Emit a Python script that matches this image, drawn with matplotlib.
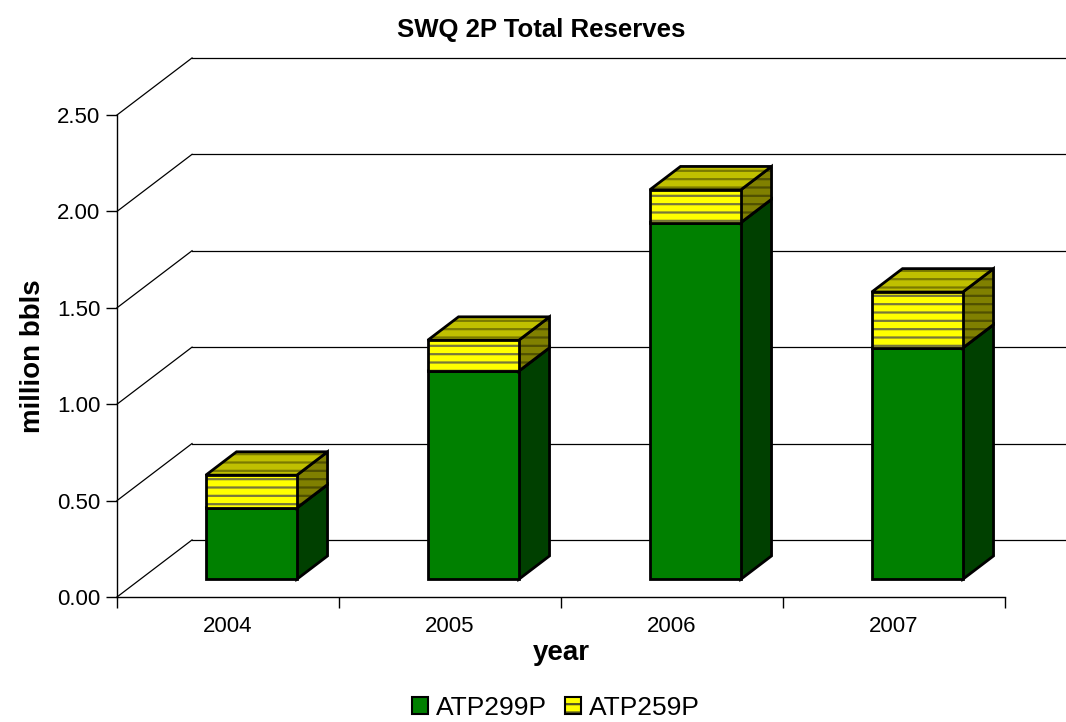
import matplotlib
matplotlib.use("Agg")
import matplotlib.pyplot as plt
from matplotlib.patches import Polygon, Patch
from matplotlib.legend_handler import HandlerTuple

years = ["2004", "2005", "2006", "2007"]
atp299p = [0.37, 1.08, 1.85, 1.20]
atp259p = [0.17, 0.16, 0.17, 0.29]
y_ticks = [0.0, 0.5, 1.0, 1.5, 2.0, 2.5]

# oblique depth of the chart box, in data units
DX, DY = 0.338, 0.296
F_FRONT, F_BACK = 0.31, 0.72
HALF_W = 0.205

plt.rcParams["font.family"] = ["Liberation Sans", "DejaVu Sans"]
plt.rcParams["hatch.linewidth"] = 1.6

fig = plt.figure(figsize=(10.66, 7.22), dpi=100)
ax = fig.add_axes([117 / 1066, 125 / 722, 888 / 1066, 482 / 722])
ax.set_xlim(0, len(years))
ax.set_ylim(0, 2.5)
for s in ["top", "right"]:
    ax.spines[s].set_visible(False)
ax.spines["left"].set_linewidth(1.0)
ax.spines["bottom"].set_linewidth(1.0)

# walls: left side diagonals and back wall lines
for v in y_ticks:
    ax.plot([0, DX], [v, v + DY], color="black", lw=0.9, clip_on=False, zorder=1)
    ax.plot([DX, len(years) + DX], [v + DY, v + DY], color="black", lw=0.9,
            clip_on=False, zorder=1)


def face(pts, fc, hatch_col=None):
    ax.add_patch(Polygon(pts, closed=True, facecolor=fc, edgecolor="none",
                         clip_on=False, zorder=3))
    if hatch_col is not None:
        ax.add_patch(Polygon(pts, closed=True, facecolor="none", edgecolor=hatch_col,
                             lw=0, hatch="--", clip_on=False, zorder=3))
    ax.add_patch(Polygon(pts, closed=True, facecolor="none", edgecolor="black",
                         lw=2.0, joinstyle="miter", clip_on=False, zorder=3))


def box(i, y0, y1, cols, hatch_cols):
    c = i + 0.5
    def p(x, y, f):
        return (x + f * DX, y + f * DY)
    l, r = c - HALF_W, c + HALF_W
    side = [p(r, y0, F_FRONT), p(r, y0, F_BACK), p(r, y1, F_BACK), p(r, y1, F_FRONT)]
    top = [p(l, y1, F_FRONT), p(r, y1, F_FRONT), p(r, y1, F_BACK), p(l, y1, F_BACK)]
    front = [p(l, y0, F_FRONT), p(r, y0, F_FRONT), p(r, y1, F_FRONT), p(l, y1, F_FRONT)]
    face(side, cols[1], hatch_cols[1])
    face(top, cols[2], hatch_cols[2])
    face(front, cols[0], hatch_cols[0])


green_cols = ("#008000", "#004000", "#006000")
yellow_cols = ("#FFFF00", "#808000", "#C0C000")
yellow_hatch = ("#77773a", "#505000", "#7a7a00")

for i in range(len(years)):
    g = atp299p[i]
    box(i, 0, g, green_cols, (None, None, None))
    box(i, g, g + atp259p[i], yellow_cols, yellow_hatch)

ax.set_yticks(y_ticks)
ax.set_yticklabels([f"{v:.2f}" for v in y_ticks], fontsize=16)
ax.set_xticks(range(len(years) + 1))
ax.set_xticklabels([])
ax.set_xticks([i + 0.5 for i in range(len(years))], minor=True)
ax.set_xticklabels(years, minor=True, fontsize=16)
ax.tick_params(axis="x", which="major", length=8, width=1)
ax.tick_params(axis="x", which="minor", length=0, pad=14)
ax.tick_params(axis="y", length=8, width=1, pad=4)

ax.set_xlabel("year", fontsize=20, fontweight="bold", labelpad=2)
ax.set_ylabel("million bbls", fontsize=20, fontweight="bold", labelpad=8)
fig.text(541 / 1066, 1 - 30 / 722, "SWQ 2P Total Reserves", fontsize=18.5,
         fontweight="bold", ha="center", va="center")

h1 = Patch(facecolor="#008000", edgecolor="black", lw=1.5)
h2 = (Patch(facecolor="#FFFF00", edgecolor="none"),
      Patch(facecolor="none", edgecolor="#555522", lw=0, hatch="--"),
      Patch(facecolor="none", edgecolor="black", lw=1.5))
fig.legend([h1, h2], ["ATP299P", "ATP259P"], loc="center",
           bbox_to_anchor=(556 / 1066, 1 - 708 / 722), ncol=2, frameon=False,
           fontsize=19, handlelength=0.6, handleheight=0.6, handletextpad=0.3,
           columnspacing=0.7, borderpad=0,
           handler_map={tuple: HandlerTuple(ndivide=1, pad=0)})

fig.savefig("out.png", dpi=100)
